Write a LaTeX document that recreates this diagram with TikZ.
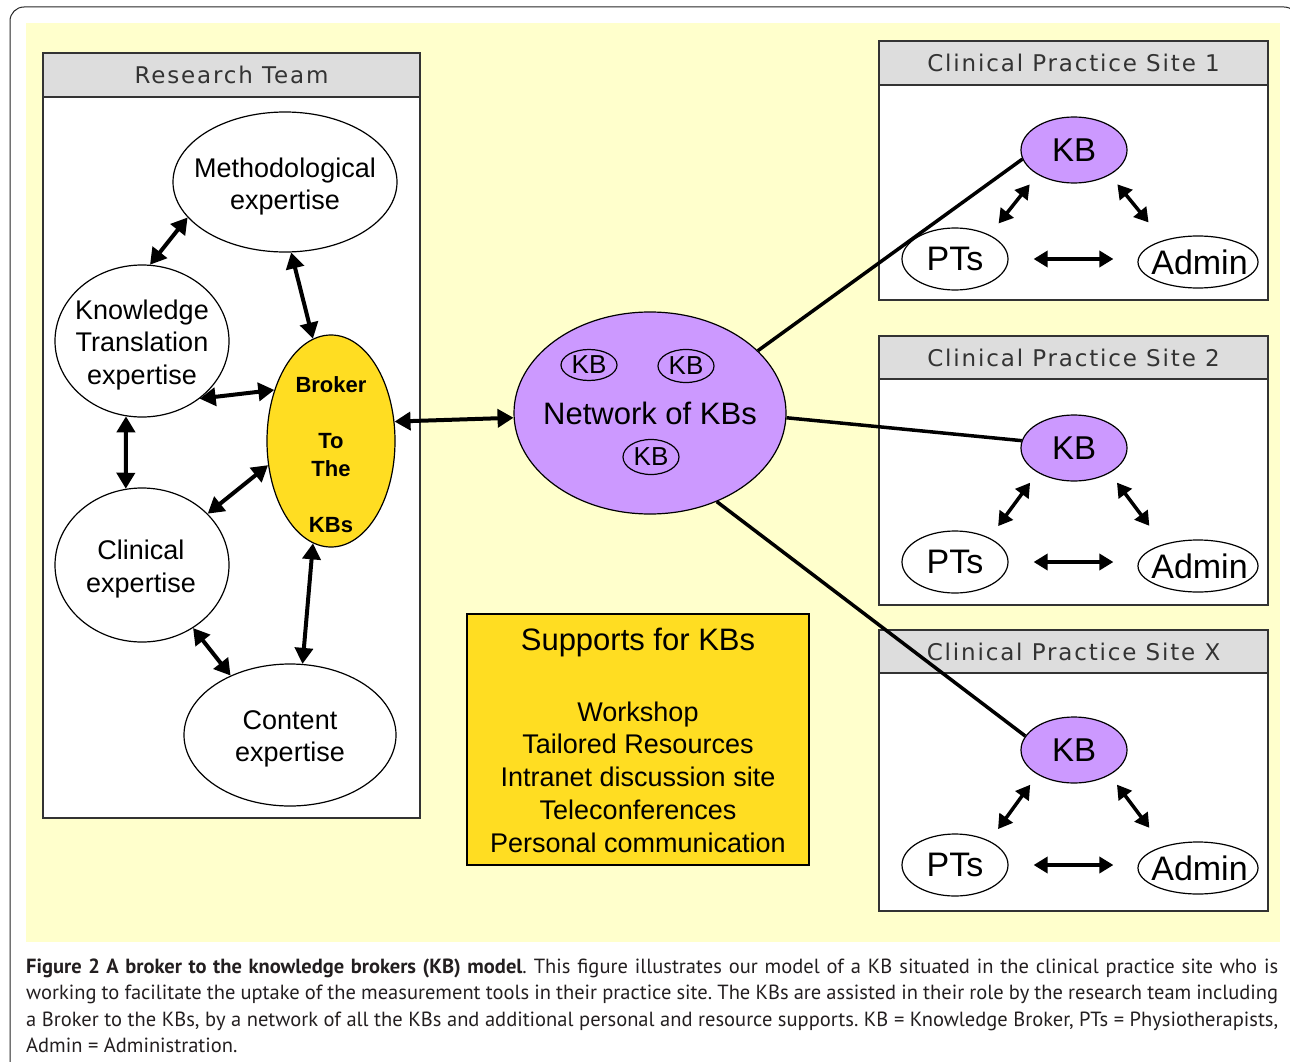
\documentclass[tikz,border=0pt]{standalone}
\usepackage{fontspec}
\setmainfont{Liberation Sans}
\newfontfamily\hdrfont[LetterSpace=8]{DejaVu Sans}
\newfontfamily\capfont{PT Sans}
\usetikzlibrary{shapes.geometric,arrows.meta}
\definecolor{bgy}{HTML}{FFFFCC}
\definecolor{hdrg}{HTML}{DDDDDD}
\definecolor{kbp}{HTML}{CC99FF}
\definecolor{bry}{HTML}{FFDD22}
\definecolor{hdrt}{HTML}{333333}
\definecolor{capt}{HTML}{231F20}
\begin{document}
\frenchspacing
\begin{tikzpicture}[x=1pt,y=-1pt,
  ell/.style={ellipse, draw=black, line width=1.2pt, inner sep=0pt, fill=white},
  arr/.style={line width=4pt, >={Triangle[length=16pt,width=18pt]}, <->},
  sarr/.style={line width=3.5pt, >={Triangle[length=14pt,width=16pt]}, <->},
  link/.style={line width=3.5pt},
  panel/.style={draw=hdrt, line width=1.3pt, fill=white},
  hdr/.style={draw=hdrt, line width=1.3pt, fill=hdrg},
  hdrtxt/.style={font=\hdrfont\fontsize{23}{27}\selectfont, text=hdrt, inner sep=0pt},
  t27/.style={font=\fontsize{27}{32.5}\selectfont, align=center, inner sep=0pt},
  captxt/.style={font=\capfont\fontsize{20.5}{24}\selectfont, text=capt, inner sep=0pt, anchor=base west}]
\useasboundingbox (0,0) rectangle (1290,1062);
% outer frame and background
\draw[line width=1pt, black!85, rounded corners=14pt] (10,1080) -- (10,7) -- (1298,7) -- (1298,1080);
\fill[bgy] (26,23) rectangle (1280,942);

% Research team panel
\draw[panel] (43,53) rectangle (420,818);
\draw[hdr] (43,53) rectangle (420,97);
\node[hdrtxt] (rtT) at (231.5,75) {Research Team};

\node[ell, minimum width=224pt, minimum height=140pt] (meth) at (285,182) {};
\node[t27] (methT) at (285,186.5) {Methodological\\expertise};
\node[ell, minimum width=174pt, minimum height=152pt] (kt) at (142,341) {};
\node[t27] (ktT) at (142,345) {Knowledge\\Translation\\expertise};
\node[ell, minimum width=174pt, minimum height=154pt] (clin) at (142,565) {};
\node[t27] (clinT) at (141,569) {Clinical\\expertise};
\node[ell, minimum width=212pt, minimum height=142pt] (cont) at (290,735) {};
\node[t27] (contT) at (290,739) {Content\\expertise};
\node[ell, fill=bry, minimum width=128pt, minimum height=212pt] (brk) at (331,441) {};
\node[font=\bfseries\fontsize{22}{28}\selectfont, align=center, inner sep=0pt] (brkT) at (331,454.5) {Broker\\[28pt]To\\The\\[28pt]KBs};

% Network
\node[ell, fill=kbp, minimum width=272pt, minimum height=202pt] (net) at (650,413) {};
\node[font=\fontsize{31}{36}\selectfont, inner sep=0pt] (netT) at (650,413) {Network of KBs};
\node[ell, fill=kbp, minimum width=56pt, minimum height=31pt, font=\fontsize{26}{30}\selectfont] (nkb1) at (589,365) {KB};
\node[ell, fill=kbp, minimum width=56pt, minimum height=33pt, font=\fontsize{26}{30}\selectfont] (nkb2) at (686,366) {KB};
\node[ell, fill=kbp, minimum width=56pt, minimum height=35pt, font=\fontsize{26}{30}\selectfont] (nkb3) at (651,457) {KB};

% Supports
\node[draw=black, line width=1.2pt, fill=bry, minimum width=342pt, minimum height=251pt, inner sep=0pt] (sup) at (638,739.5) {};
\node[font=\fontsize{31}{36}\selectfont, inner sep=0pt] (supT) at (638,642) {Supports for KBs};
\node[font=\fontsize{27}{32.75}\selectfont, align=center, inner sep=0pt] (supL) at (638,777) {Workshop\\Tailored Resources\\Intranet discussion site\\Teleconferences\\Personal communication};

% Clinical practice sites
\foreach \n/\t/\h/\b/\k/\p/\a in {1/41/85/300/150/259/262, 2/336/379/605/448/562/566, X/630/673/911/750/865/868}{
  \draw[panel] (879,\t) rectangle (1268,\b);
  \draw[hdr] (879,\t) rectangle (1268,\h);
  \node[hdrtxt] (site\n T) at (1073.5,{(\t+\h)/2}) {Clinical Practice Site \n};
  \node[ell, fill=kbp, minimum width=106pt, minimum height=66pt, font=\fontsize{33}{38}\selectfont] (kb\n) at (1074,\k) {KB};
  \node[ell, minimum width=106pt, minimum height=62pt] (pts\n) at (955,\p) {};
  \node[font=\fontsize{34}{38}\selectfont, inner sep=0pt] (pts\n T) at (955,\p) {PTs};
  \node[ell, minimum width=120pt, minimum height=52pt] (adm\n) at (1198,\a) {};
  \node[font=\fontsize{34}{38}\selectfont, inner sep=0pt] (adm\n T) at (1199.5,\a) {Admin};
  \draw[sarr, shorten <=12.5pt, shorten >=14.5pt] (kb\n.214) -- (pts\n.35);
  \draw[sarr, shorten <=12pt, shorten >=23pt] (kb\n.325) -- (adm\n.148);
  \draw[sarr, shorten <=25pt, shorten >=24pt] (pts\n.east) -- (pts\n.east -| adm\n.west);
}

% links network -> site KBs
\draw[link] (net.30) -- (kb1.190);
\draw[link] (net.-2) -- (kb2.172);
\draw[link] (net.-53) -- (kbX.164);

% research team arrows
\draw[arr] (kt.84) -- (meth.200);
\draw[arr] (meth.275) -- (brk.100.6);
\draw[arr] (kt.315.5) -- (brk.138);
\draw[arr] (kt.258) -- (clin.102);
\draw[arr] (clin.38) -- (brk.201);
\draw[arr] (clin.309) -- (cont.135);
\draw[arr] (brk.260) -- (cont.80);
\draw[arr] (brk.17.6) -- (net.182);

% caption
\node[captxt] (cap1) at (26,973) {\makebox[1252pt][s]{\textbf{Figure 2 A broker to the knowledge brokers (KB) model}. This figure illustrates our model of a KB situated in the clinical practice site who is}};
\node[captxt] (cap2) at (26,999.5) {\makebox[1252pt][s]{working to facilitate the uptake of the measurement tools in their practice site. The KBs are assisted in their role by the research team including}};
\node[captxt] (cap3) at (26,1026) {\makebox[1252pt][s]{a Broker to the KBs, by a network of all the KBs and additional personal and resource supports. KB = Knowledge Broker, PTs = Physiotherapists,}};
\node[captxt] (cap4) at (26,1052.5) {Admin = Administration.};
\end{tikzpicture}
\end{document}
